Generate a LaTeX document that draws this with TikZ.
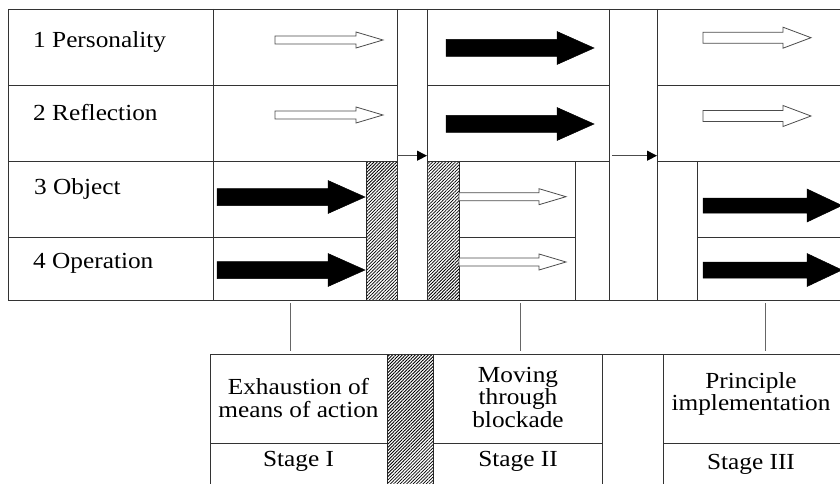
\documentclass[tikz,border=0pt]{standalone}
\usepackage{fontspec}
\setmainfont{Liberation Serif}
\usetikzlibrary{patterns.meta,arrows.meta}
\tikzset{
  grid/.style={draw=black!80,line width=0.9pt},
  hatch/.style={draw=black!85,line width=0.8pt,pattern={Lines[angle=45,distance=2.3pt,line width=0.8pt]},pattern color=black},
  conn/.style={draw=black!60,line width=0.9pt},
  smallarr/.style={draw=black!70,line width=0.9pt,-{Triangle[length=10pt,width=10pt,color=black]}},
  rowlabel/.style={anchor=base west,inner sep=0pt,xscale=1.1,transform shape,font=\fontsize{23}{23}\selectfont},
  stagetext/.style={align=center,inner sep=0pt,xscale=1.1,transform shape,font=\fontsize{23}{22.5}\selectfont},
  blackarr/.style={fill=black,draw=black,line width=0.5pt},
  whitearr/.style={fill=white,draw=black!70,line width=0.8pt}
}
% #1 style, #2 x0, #3 y, #4 head start, #5 tip, #6 shaft half, #7 head half
\newcommand\blockarrow[7]{%
  \path[#1] ({#2},{#3-#6}) -- ({#4},{#3-#6}) -- ({#4},{#3-#7}) -- ({#5},{#3})
   -- ({#4},{#3+#7}) -- ({#4},{#3+#6}) -- ({#2},{#3+#6}) -- cycle;}
\begin{document}
\begin{tikzpicture}[x=1pt,y=-1pt]
\useasboundingbox (0,0) rectangle (840,484);
% hatched bars
\path[hatch] (366,161) rectangle (397,300);
\path[hatch] (427,161) rectangle (459,300);
\path[hatch] (387,354) rectangle (433,484);
% upper table lines
\draw[grid] (8,9) -- (840,9);
\draw[grid] (8,85) -- (397,85) (427,85) -- (609,85) (657,85) -- (840,85);
\draw[grid] (8,161) -- (397,161) (427,161) -- (609,161) (657,161) -- (840,161);
\draw[grid] (8,237) -- (366,237) (459,237) -- (575,237) (697,237) -- (840,237);
\draw[grid] (8,300) -- (840,300);
\draw[grid] (8,9) -- (8,300) (213,9) -- (213,300) (397,9) -- (397,300)
  (427,9) -- (427,300) (609,9) -- (609,300) (657,9) -- (657,300)
  (575,161) -- (575,300) (697,161) -- (697,300);
% row labels
\node[rowlabel] (r1) at (33,48) {1 Personality};
\node[rowlabel] (r2) at (33,121) {2 Reflection};
\node[rowlabel] (r3) at (34,194) {3 Object};
\node[rowlabel] (r4) at (33,268) {4 Operation};
% arrows column B
\blockarrow{whitearr}{275}{40}{356}{383}{4}{8}
\blockarrow{whitearr}{275}{115}{356}{383}{4}{8}
\blockarrow{blackarr}{217}{197}{328}{365}{8.5}{16.5}
\blockarrow{blackarr}{217}{270}{328}{365}{8.5}{16.5}
% arrows column C
\blockarrow{blackarr}{446}{48}{557}{594}{8.5}{16.5}
\blockarrow{blackarr}{446}{124}{557}{594}{8.5}{16.5}
\blockarrow{whitearr}{459}{196.7}{539}{566}{4}{8}
\blockarrow{whitearr}{459}{262}{539}{566}{4}{8}
% arrows column D
\blockarrow{whitearr}{703}{37.7}{783}{811}{5.5}{10.5}
\blockarrow{whitearr}{703}{116}{783}{811}{5.5}{10.5}
\blockarrow{blackarr}{703}{205.5}{807}{842}{7.5}{16.5}
\blockarrow{blackarr}{703}{270}{807}{842}{8}{16.5}
% small transition arrows
\coordinate (a1) at (397,155.7);
\coordinate (a2) at (427,155.7);
\coordinate (b1) at (612,155.7);
\coordinate (b2) at (657,155.7);
\draw[smallarr] (a1) -- (a2);
\draw[smallarr] (b1) -- (b2);
% connectors to bottom boxes
\coordinate (c1t) at (290,303); \coordinate (c1b) at (290,351);
\coordinate (c2t) at (520,303); \coordinate (c2b) at (520,351);
\coordinate (c3t) at (765,303); \coordinate (c3b) at (765,351);
\draw[conn] (c1t) -- (c1b) (c2t) -- (c2b) (c3t) -- (c3b);
% bottom boxes
\draw[grid] (210,354) -- (840,354);
\draw[grid] (210,443) -- (387,443) (433,443) -- (602,443) (663,443) -- (840,443);
\draw[grid] (210,354) -- (210,484) (602,354) -- (602,484) (663,354) -- (663,484);
\node[stagetext] (s1) at (298.5,398) {Exhaustion of\\means of action};
\node[stagetext] (s2) at (518,397) {Moving\\through\\blockade};
\node[stagetext] (s3) at (751,394) {Principle\\implementation};
\node[rowlabel,anchor=base] (st1) at (298.5,466) {Stage I};
\node[rowlabel,anchor=base] (st2) at (518,466) {Stage II};
\node[rowlabel,anchor=base] (st3) at (751,469) {Stage III};
\end{tikzpicture}
\end{document}
